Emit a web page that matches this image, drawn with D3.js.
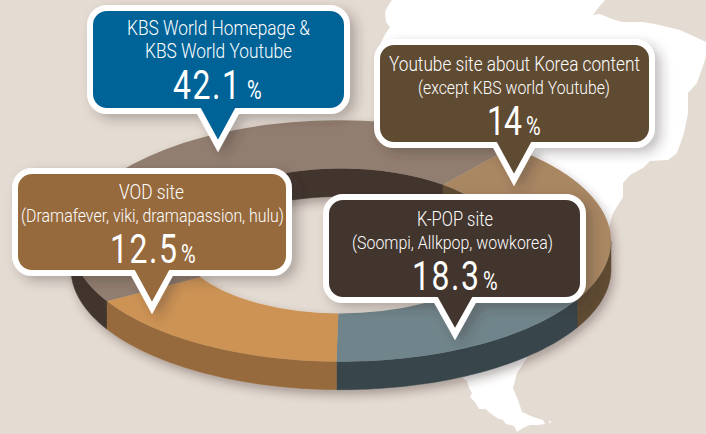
<!DOCTYPE html>
<html><head><meta charset="utf-8">
<script src="https://cdn.jsdelivr.net/npm/d3@7/dist/d3.min.js"></script>
<style>html,body{margin:0;padding:0;background:#e4dbd2;overflow:hidden}svg{display:block}text{font-family:Roboto,sans-serif;font-weight:300;fill:#fff}text.num{font-weight:400}</style>
</head><body><svg id="c" width="706" height="434"></svg>
<script>
// Values as printed on the callouts
const categories = ["KBS World Homepage & KBS World Youtube","Youtube site about Korea content","K-POP site","VOD site"];
const valueLabels = ["42.1","14","18.3","12.5"];
// Slice spans as actually drawn in the picture (not proportional to the printed values, and the printed values do not total 100)
const drawnShares = [44.2,22.2,17.2,16.4];
const firstLines = ["KBS World Homepage &","Youtube site about Korea content","K-POP site","VOD site"];
const secondLines = ["KBS World Youtube","(except KBS world Youtube)","(Soompi, Allkpop, wowkorea)","(Dramafever, viki, dramapassion, hulu)"];
const faceColors = ["#927e70","#a98763","#6f858b","#cc9355"];
const wallColors = ["#43362f","#5f4b33","#37444b","#966b3c"];
const boxColors = ["#016497","#5f4b33","#43362f","#966b3c"];

// Layout, separate from the data
const boxes = [
 {x0:90,y0:8,x1:347,y1:111,tx:218,ty:146,l1:[127,183,35],l2:[145,147,58],n:[173,67,99],p:[247,16]},
 {x0:377,y0:42,x1:652,y1:145,tx:514,ty:180,l1:[389,251,71],l2:[418,192,94],n:[487,35,135],p:[526,17]},
 {x0:326,y0:197,x1:583,y1:300,tx:455,ty:334,l1:[417,76,226],l2:[352,201,249],n:[412,67,290],p:[483,16]},
 {x0:15,y0:171,x1:289,y1:273,tx:152,ty:308,l1:[119,65,199],l2:[21,263,222],n:[110,67,263],p:[181,16]}
];
const cx=341, cy=241, R=270, r=162, squash=0.447, depth=28;
const mapOutline=[[392,0],[388,6],[385,12],[386,22],[390,27],[386,33],[382,40],[378,50],[380,90],[420,130],[450,200],[465,300],[463,378],[467,381],[469,388],[472,393],[470,397],[475,402],[479,409],[486,409],[490,413],[497,418],[503,420],[506,424],[514,426],[517,432],[523,428],[530,425],[538,425],[545,424],[543,420],[533,417],[522,412],[518,400],[513,388],[517,373],[527,358],[560,300],[608,230],[613,213],[623,197],[623,183],[630,175],[643,168],[650,161],[668,160],[677,153],[684,133],[688,113],[688,93],[697,83],[706,57],[706,42],[680,30],[655,24],[643,22],[622,22],[612,19],[600,14],[593,15],[598,8],[605,0]];

const svg=d3.select("#c");
const defs=svg.append("defs");
const shadow=(id,dx,dy,b,o)=>{defs.append("filter").attr("id",id).attr("x","-20%").attr("y","-20%").attr("width","150%").attr("height","160%")
  .append("feDropShadow").attr("dx",dx).attr("dy",dy).attr("stdDeviation",b).attr("flood-color","#3a2f28").attr("flood-opacity",o);};
shadow("ringS",3,5,5,0.35); shadow("boxS",6,5,6,0.3);

svg.append("rect").attr("width",706).attr("height",434).attr("fill","#e4dbd2");
svg.append("path").attr("d",d3.line().curve(d3.curveLinear)(mapOutline)+"Z").attr("fill","#fff");
svg.append("circle").attr("cx",550).attr("cy",422).attr("r",1).attr("fill","#fff");

// Pie starts at the top-left boundary of the first slice
const startDeg=240;
const pie=d3.pie().sort(null).value(d=>d).startAngle(startDeg*Math.PI/180).endAngle((startDeg+360)*Math.PI/180);
const arcs=pie(drawnShares);
const px=(a,rad)=>cx+rad*Math.sin(a), py=(a,rad,dy=0)=>cy-rad*squash*Math.cos(a)+dy;
const line=d3.line();
function clipSpan(a0,a1,lo,hi){ // overlap of [a0,a1] with [lo,hi], shifted by whole turns
  const out=[];
  for(const t of [-2*Math.PI,0,2*Math.PI]){const s=Math.max(a0,lo+t),e=Math.min(a1,hi+t);if(e>s)out.push([s,e]);}
  return out;
}
function wall(s,e,rad){
  const n=48, as=d3.range(n+1).map(i=>s+(e-s)*i/n);
  const top=as.map(a=>[px(a,rad),py(a,rad)]);
  const bot=as.slice().reverse().map(a=>[px(a,rad),py(a,rad,depth)]);
  return line(top.concat(bot))+"Z";
}
const ring=svg.append("g").attr("filter","url(#ringS)");
arcs.forEach((d,i)=>{
  clipSpan(d.startAngle,d.endAngle,Math.PI/2,Math.PI*1.5).forEach(([s,e])=>
    ring.append("path").attr("d",wall(s,e,R)).attr("fill",wallColors[i]).attr("stroke",wallColors[i]).attr("stroke-width",.5));
  clipSpan(d.startAngle,d.endAngle,-Math.PI/2,Math.PI/2).forEach(([s,e])=>
    ring.append("path").attr("d",wall(s,e,r)).attr("fill",wallColors[i]).attr("stroke",wallColors[i]).attr("stroke-width",.5));
});
const arc=d3.arc().innerRadius(r).outerRadius(R);
ring.append("g").attr("transform",`translate(${cx},${cy}) scale(1,${squash})`)
  .selectAll("path").data(arcs).join("path").attr("d",arc).attr("fill",(d,i)=>faceColors[i]);

function bubble(b){
  const q=17,h=19,m=b.tx;
  const A=(x,y)=>`A${q},${q} 0 0 1 ${x},${y}`;
  return `M${b.x0+q},${b.y0}H${b.x1-q}${A(b.x1,b.y0+q)}V${b.y1-q}${A(b.x1-q,b.y1)}H${m+h}L${b.tx},${b.ty}L${m-h},${b.y1}H${b.x0+q}${A(b.x0,b.y1-q)}V${b.y0+q}${A(b.x0+q,b.y0)}Z`;
}
function txt(g,s,spec,size,base){
  g.append("text").attr("x",spec[0]).attr("y",base!==undefined?base:spec[2]).attr("font-size",size)
   .attr("textLength",spec[1]).attr("lengthAdjust","spacingAndGlyphs").text(s);
}
// Condensed digits with open tracking: narrow the glyphs, then spread to the measured width
function num(g,s,spec,size,sx){
  g.append("text").attr("class","num").attr("transform",`translate(${spec[0]},${spec[2]}) scale(${sx},1)`).attr("font-size",size)
   .attr("textLength",spec[1]/sx).attr("lengthAdjust","spacing").text(s);
}
// Draw order from the picture: blue, VOD, Youtube, K-POP
[0,3,1,2].forEach(i=>{
  const b=boxes[i], g=svg.append("g");
  g.append("path").attr("d",bubble(b)).attr("fill",boxColors[i]).attr("stroke","#fff").attr("stroke-width",6)
   .attr("stroke-linejoin","miter").attr("stroke-miterlimit",6).attr("filter","url(#boxS)");
  txt(g,firstLines[i],b.l1,20);
  txt(g,secondLines[i],b.l2,i===0?20:18.5);
  num(g,valueLabels[i],b.n,41,0.78);
  num(g,"%",[b.p[0],b.p[1],b.n[2]],25,0.8);
});
</script></body></html>
